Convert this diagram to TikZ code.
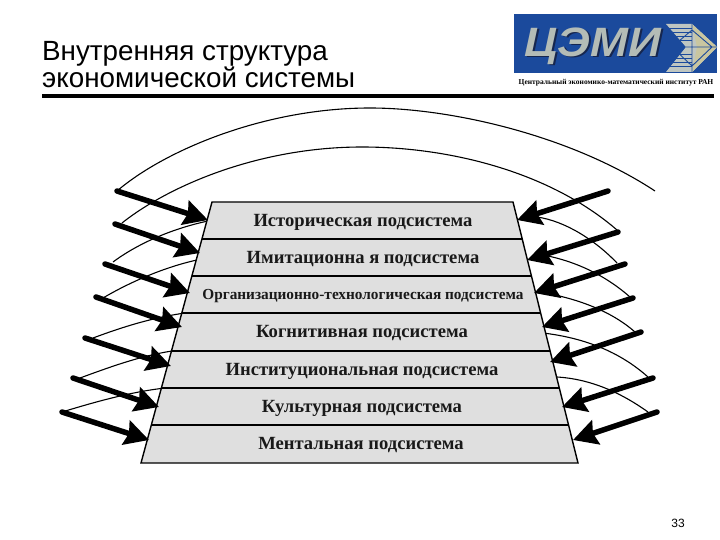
\documentclass[tikz,border=0pt]{standalone}
\usepackage{fontspec}
\setmainfont{Liberation Serif}
\newfontfamily\titlefont{Liberation Sans}
\usetikzlibrary{arrows.meta}
\definecolor{bandgray}{HTML}{DFDFDF}
\definecolor{logoblue}{HTML}{1B4A9C}
\definecolor{logosilver}{HTML}{B4BCB6}
\definecolor{logotan}{HTML}{C9C6A0}
\definecolor{logodark}{HTML}{16264E}
\tikzset{
  x=1pt,y=-1pt,
  band/.style={draw=black,line width=1.4pt,fill=bandgray},
  bandlabel/.style={font=\bfseries\fontsize{18.6}{19}\selectfont,text=black!90,inner sep=0pt,anchor=base},
  thrust/.style={line width=5.5pt,line cap=round,-{Stealth[width=25pt,length=24pt,inset=3pt]}},
  arcline/.style={line width=1.1pt},
  logoword/.style={font=\titlefont\bfseries\itshape\fontsize{41}{41}\selectfont,inner sep=0pt}
}
\begin{document}
\begin{tikzpicture}
\useasboundingbox (0,0) rectangle (720,540);
\fill[white] (0,0) rectangle (720,540);
% title
\node[font=\titlefont\fontsize{27.8}{27.5}\selectfont,align=left,anchor=base west,inner sep=0pt] (title) at (42,88) {Внутренняя структура\\экономической системы};
\draw[line width=3.2pt] (42,96) -- (714,96);
% logo
\fill[logoblue] (514,14) rectangle (717,73);
\node[logoword,text=logodark] (logoshadow) at (594.5,47.5) {\scalebox{1.11}[1]{ЦЭМИ}};
\node[logoword,text=logosilver] (logoword) at (593,46) {\scalebox{1.11}[1]{ЦЭМИ}};
\fill[logosilver!85!white] (666,24) -- (692,24) -- (717,47) -- (692,72) -- (666,72) -- (686,47) -- cycle;
\fill[logotan] (692,24) -- (717,47) -- (692,72) -- (697,47) -- cycle;
\foreach \yy in {28,32,36,40,54,58,62,66}
  \draw[logoblue,line width=.8pt] (666,\yy) -- (692,\yy);
\draw[logoblue,line width=.9pt] (686,47) -- (717,47) (692,24) -- (692,72) (672,47) -- (692,30) -- (712,47) -- (692,66) -- cycle;
\node[font=\bfseries\fontsize{7.5}{8}\selectfont,inner sep=0pt] (logocaption) at (616,83) {Центральный экономико-математический институт РАН};
% arcs
\draw[arcline] (117,191) .. controls (165,150) and (265,108) .. (370,108) .. controls (450,108) and (570,135) .. (655,191);
\draw[arcline] (122,223) .. controls (170,185) and (260,147) .. (362,147) .. controls (450,147) and (550,172) .. (617,230);
\draw[arcline] (113,262) .. controls (140,242) and (175,228) .. (208,221);
\draw[arcline] (103,298) .. controls (130,282) and (165,267) .. (197,260);
\draw[arcline] (93,338) .. controls (120,328) and (150,318) .. (185,313);
\draw[arcline] (80,378) .. controls (110,367) and (140,356) .. (172,351);
\draw[arcline] (62,412) .. controls (95,402) and (130,392) .. (165,388);
\draw[arcline] (537,217) .. controls (565,221) and (595,240) .. (617,263);
\draw[arcline] (543,255) .. controls (575,261) and (605,275) .. (630,297);
\draw[arcline] (540,292) .. controls (575,298) and (610,310) .. (635,332);
\draw[arcline] (543,333) .. controls (585,338) and (620,352) .. (648,377);
\draw[arcline] (557,377) .. controls (590,379) and (620,392) .. (648,412);
% pyramid
\coordinate (p0l) at (212,202); \coordinate (p0r) at (513,202);
\coordinate (p1l) at (202,239); \coordinate (p1r) at (522,239);
\coordinate (p2l) at (192,276); \coordinate (p2r) at (531.5,276);
\coordinate (p3l) at (182,313); \coordinate (p3r) at (541,313);
\coordinate (p4l) at (171.5,351); \coordinate (p4r) at (550,351);
\coordinate (p5l) at (161,388); \coordinate (p5r) at (559.5,388);
\coordinate (p6l) at (151,425); \coordinate (p6r) at (568.5,425);
\coordinate (p7l) at (141,463); \coordinate (p7r) at (578,463);
\draw[band] (p0l) -- (p0r) -- (p7r) -- (p7l) -- cycle;
\foreach \n in {1,...,6} \draw[line width=1.4pt] (p\n l) -- (p\n r);
\node[bandlabel] (b1) at (363,226.5) {Историческая подсистема};
\node[bandlabel] (b2) at (363,263.5) {Имитационна я подсистема};
\node[bandlabel,font=\bfseries\fontsize{15.3}{16}\selectfont] (b3) at (363,299.5) {Организационно-технологическая подсистема};
\node[bandlabel] (b4) at (362,337.5) {Когнитивная подсистема};
\node[bandlabel] (b5) at (362,375) {Институциональная подсистема};
\node[bandlabel] (b6) at (362,412.5) {Культурная подсистема};
\node[bandlabel] (b7) at (361,449.5) {Ментальная подсистема};
% arrows
\coordinate (lt1) at (117,191); \coordinate (lh1) at (208,220);
\coordinate (lt2) at (115,224); \coordinate (lh2) at (200,253);
\coordinate (lt3) at (105,264); \coordinate (lh3) at (190,293);
\coordinate (lt4) at (96,297);  \coordinate (lh4) at (182,327);
\coordinate (lt5) at (85,338);  \coordinate (lh5) at (171,366);
\coordinate (lt6) at (73,378);  \coordinate (lh6) at (159,407);
\coordinate (lt7) at (62,412);  \coordinate (lh7) at (149,440);
\coordinate (rt1) at (608,191); \coordinate (rh1) at (517,220);
\coordinate (rt2) at (618,232); \coordinate (rh2) at (527,260);
\coordinate (rt3) at (625,264); \coordinate (rh3) at (534,293);
\coordinate (rt4) at (633,298); \coordinate (rh4) at (542,327);
\coordinate (rt5) at (641,332); \coordinate (rh5) at (550,362);
\coordinate (rt6) at (653,378); \coordinate (rh6) at (562,407);
\coordinate (rt7) at (657,412); \coordinate (rh7) at (573,440);
\foreach \n in {1,...,7} {
  \draw[thrust] (lt\n) -- (lh\n);
  \draw[thrust] (rt\n) -- (rh\n);
}
\node[font=\titlefont\fontsize{12}{12}\selectfont,inner sep=0pt] (pagenum) at (678,523) {33};
\end{tikzpicture}
\end{document}
